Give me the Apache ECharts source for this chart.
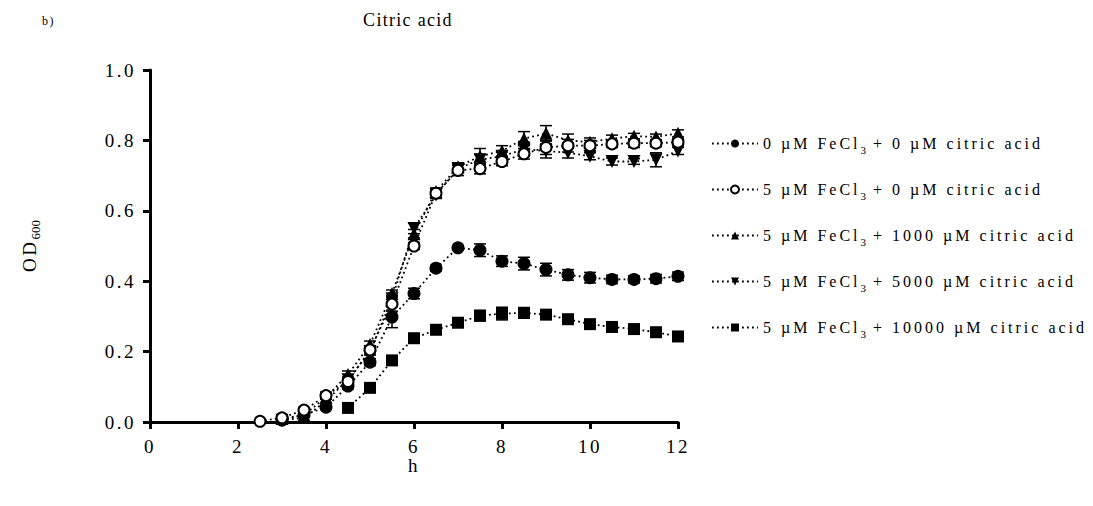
<!DOCTYPE html>
<html>
<head>
<meta charset="utf-8">
<script src="https://cdn.jsdelivr.net/npm/echarts@6/dist/echarts.min.js"></script>
<style>
html,body{margin:0;padding:0;background:#fff;}
#c{width:1093px;height:506px;}
svg text[style*="18px"]{letter-spacing:1.3px;}
svg text[style*="16px"]{letter-spacing:3px;}
svg text[style*="19px"]{letter-spacing:2.5px;}
svg text[style*="12px"]{letter-spacing:1.5px;}
</style>
</head>
<body>
<div id="c"></div>
<script>
// ---- data ----
const seriesNames = [
  '0 µM FeCl3 + 0 µM citric acid',
  '5 µM FeCl3 + 0 µM citric acid',
  '5 µM FeCl3 + 1000 µM citric acid',
  '5 µM FeCl3 + 5000 µM citric acid',
  '5 µM FeCl3 + 10000 µM citric acid'
];
const hoursA = [3,3.5,4,4.5,5,5.5,6,6.5,7,7.5,8,8.5,9,9.5,10,10.5,11,11.5,12];
const hoursOpen = [2.5,3,3.5,4,4.5,5,5.5,6,6.5,7,7.5,8,8.5,9,9.5,10,10.5,11,11.5,12];
const hoursSq = [4.5,5,5.5,6,6.5,7,7.5,8,8.5,9,9.5,10,10.5,11,11.5,12];

const od0Fe0Cit = [0.005,0.02,0.042,0.102,0.17,0.298,0.365,0.437,0.495,0.488,0.457,0.45,0.433,0.418,0.41,0.405,0.405,0.407,0.414];
const err0Fe0Cit = [0,0,0.005,0.008,0.01,0.03,0.015,0.008,0.005,0.018,0.015,0.018,0.018,0.015,0.015,0.012,0.01,0.012,0.012];

const od5Fe0Cit = [0.002,0.012,0.034,0.075,0.115,0.205,0.335,0.5,0.65,0.715,0.72,0.74,0.762,0.78,0.785,0.785,0.79,0.792,0.792,0.795];
const err5Fe0Cit = [0,0,0.005,0.01,0.01,0.012,0.02,0.01,0.012,0.015,0.015,0.012,0.015,0.02,0.018,0.015,0.01,0.012,0.01,0.01];

const od5Fe1000Cit = [0.01,0.02,0.07,0.135,0.22,0.365,0.535,0.655,0.725,0.755,0.77,0.805,0.82,0.8,0.795,0.805,0.812,0.81,0.82];
const err5Fe1000Cit = [0,0,0.005,0.01,0.01,0.01,0.012,0.01,0.01,0.022,0.015,0.02,0.022,0.018,0.012,0.01,0.008,0.008,0.01];

const od5Fe5000Cit = [0.005,0.012,0.06,0.12,0.2,0.35,0.55,0.645,0.72,0.745,0.755,0.775,0.77,0.765,0.755,0.74,0.74,0.745,0.77];
const err5Fe5000Cit = [0,0,0.005,0.008,0.01,0.01,0.015,0.01,0.01,0.015,0.012,0.02,0.02,0.015,0.01,0.01,0.008,0.02,0.01];

const od5Fe10000Cit = [0.04,0.097,0.175,0.238,0.262,0.282,0.302,0.308,0.31,0.305,0.292,0.278,0.27,0.264,0.255,0.243];
const err5Fe10000Cit = [0.003,0.005,0.005,0.005,0.005,0.008,0.015,0.018,0.015,0.01,0.008,0.006,0.006,0.006,0.006,0.006];

const xTicks = [0,2,4,6,8,10,12];
const yTicks = [0,0.2,0.4,0.6,0.8,1.0];

// ---- text measuring that matches the CSS letter-spacing above ----
const SPACING = {18: 1.3, 16: 3, 19: 2.5, 12: 1.5};
const mctx = document.createElement('canvas').getContext('2d');
echarts.setPlatformAPI({
  measureText: function (text, font) {
    mctx.font = font || '12px sans-serif';
    const m = /(\d+(?:\.\d+)?)px/.exec(mctx.font) || /(\d+(?:\.\d+)?)px/.exec(font || '');
    const fs = m ? Math.round(parseFloat(m[1])) : 12;
    const ls = SPACING[fs] || 0;
    return {width: mctx.measureText(text).width + ls * String(text).length};
  }
});

// ---- build ----
const FONT = "'Liberation Serif', 'Times New Roman', serif";
const pairs = (xs, ys) => xs.map((x, i) => [x, ys[i]]);
const triples = (xs, ys, es) => xs.map((x, i) => [x, ys[i], es[i]]);

const groups = [
  {x: hoursA, y: od0Fe0Cit, e: err0Fe0Cit, symbol: 'circle', size: 13, fill: '#000', z: 3},
  {x: hoursOpen, y: od5Fe0Cit, e: err5Fe0Cit, symbol: 'circle', size: 11, fill: '#fff', z: 6},
  {x: hoursA, y: od5Fe1000Cit, e: err5Fe1000Cit, symbol: 'triangle', size: 13, fill: '#000', z: 4},
  {x: hoursA, y: od5Fe5000Cit, e: err5Fe5000Cit, symbol: 'path://M0,0 L10,0 L5,9 Z', size: 13, fill: '#000', z: 5},
  {x: hoursSq, y: od5Fe10000Cit, e: err5Fe10000Cit, symbol: 'rect', size: 12, fill: '#000', z: 3}
];

const series = [];
groups.forEach((g, i) => {
  series.push({
    type: 'custom',
    name: 'err' + i,
    coordinateSystem: 'cartesian2d',
    z: 1,
    silent: true,
    data: triples(g.x, g.y, g.e),
    encode: {x: 0, y: 1},
    renderItem: function (params, api) {
      const x = api.value(0), y = api.value(1), e = api.value(2);
      if (!e) return null;
      const hi = api.coord([x, y + e]);
      const lo = api.coord([x, y - e]);
      const w = 6;
      const st = {stroke: '#000', lineWidth: 1.5};
      return {type: 'group', children: [
        {type: 'line', shape: {x1: hi[0], y1: hi[1], x2: lo[0], y2: lo[1]}, style: st},
        {type: 'line', shape: {x1: hi[0] - w, y1: hi[1], x2: hi[0] + w, y2: hi[1]}, style: st},
        {type: 'line', shape: {x1: lo[0] - w, y1: lo[1], x2: lo[0] + w, y2: lo[1]}, style: st}
      ]};
    }
  });
});
groups.forEach((g, i) => {
  series.push({
    type: 'line',
    name: seriesNames[i],
    data: pairs(g.x, g.y),
    z: g.z,
    symbol: g.symbol,
    symbolSize: g.size,
    showAllSymbol: true,
    itemStyle: {color: g.fill, borderColor: '#000', borderWidth: g.fill === '#fff' ? 2 : 0},
    lineStyle: {color: '#000', width: 1.8, type: [1.8, 3.2]},
    emphasis: {disabled: true},
    animation: false
  });
});

const chart = echarts.init(document.getElementById('c'), null, {renderer: 'svg'});
chart.setOption({
  animation: false,
  backgroundColor: '#fff',
  title: [
    {text: 'Citric acid', left: 403, top: 5, textAlign: 'center',
     textStyle: {fontFamily: FONT, fontSize: 18, fontWeight: 'normal', color: '#000'}},
    {text: 'b)', left: 37, top: 9,
     textStyle: {fontFamily: FONT, fontSize: 12, fontWeight: 'normal', color: '#000'}}
  ],
  grid: {left: 150, right: 415, top: 70, bottom: 84, containLabel: false},
  legend: {
    orient: 'vertical',
    left: 706,
    top: 129,
    itemWidth: 46,
    itemHeight: 10,
    itemGap: 24.5,
    data: seriesNames,
    selectedMode: false,
    textStyle: {
      fontFamily: FONT, fontSize: 16, color: '#000',
      rich: {
        n: {fontFamily: FONT, fontSize: 16, lineHeight: 24, color: '#000'},
        s: {fontFamily: FONT, fontSize: 11, lineHeight: 11, verticalAlign: 'bottom', color: '#000'}
      }
    },
    formatter: function (name) {
      const parts = name.split('FeCl3');
      return '{n|' + parts[0] + 'FeCl}{s|3}{n|' + parts[1] + '}';
    }
  },
  xAxis: {
    type: 'value', min: 0, max: 12, interval: 2,
    name: 'h', nameLocation: 'middle', nameGap: 33, nameMoveOverlap: false,
    nameTextStyle: {fontFamily: FONT, fontSize: 19, color: '#000'},
    axisLine: {onZero: false, lineStyle: {color: '#000', width: 3}},
    axisTick: {show: true, inside: false, length: 7, lineStyle: {color: '#000', width: 3}},
    axisLabel: {margin: 14, fontFamily: FONT, fontSize: 19, color: '#000',
      formatter: v => xTicks.includes(v) ? String(v) : ''},
    splitLine: {show: false}
  },
  yAxis: {
    type: 'value', min: 0, max: 1, interval: 0.2,
    name: '{a|OD}{b|600}', nameLocation: 'middle', nameGap: 108, nameRotate: 90,
    nameTextStyle: {fontFamily: FONT, fontSize: 19, color: '#000',
      rich: {
        a: {fontFamily: FONT, fontSize: 19, lineHeight: 26, color: '#000'},
        b: {fontFamily: FONT, fontSize: 13, lineHeight: 13, verticalAlign: 'bottom', color: '#000'}
      }},
    axisLine: {onZero: false, lineStyle: {color: '#000', width: 3}},
    axisTick: {show: true, inside: false, length: 7, lineStyle: {color: '#000', width: 3}},
    axisLabel: {margin: 14, fontFamily: FONT, fontSize: 19, color: '#000',
      formatter: v => yTicks.some(t => Math.abs(t - v) < 1e-9) ? v.toFixed(1) : ''},
    splitLine: {show: false}
  },
  series: series
});
</script>
</body>
</html>
